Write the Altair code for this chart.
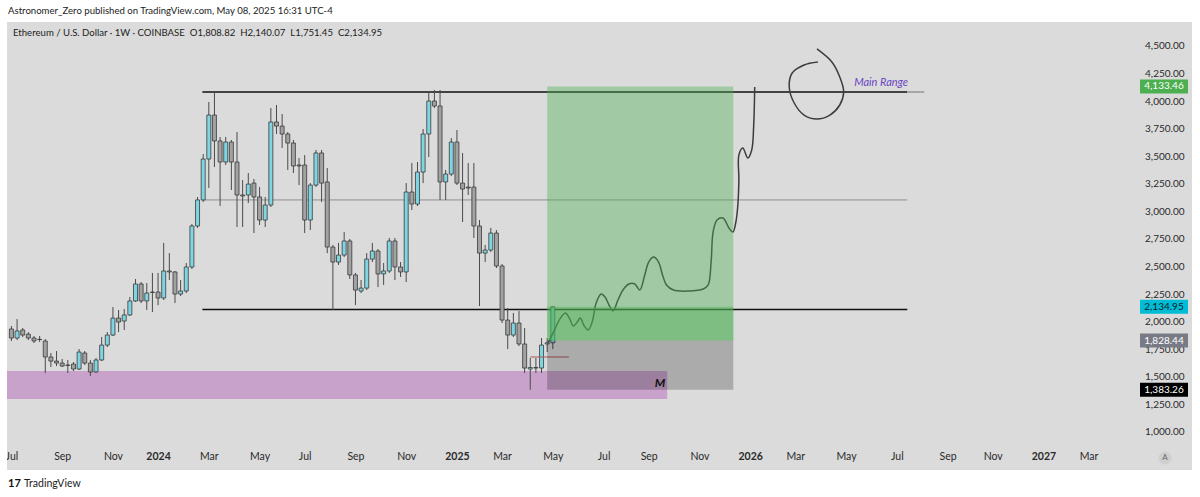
import altair as alt
import pandas as pd

FONT = "Lato"

# ---------------- data ----------------
first_week = "2023-07-03"          # weekly candles, ETH/USD (Coinbase)
opens = [1934, 1852, 1925, 1887, 1852, 1838, 1825, 1680, 1643, 1625,
         1607, 1616, 1571, 1716, 1625, 1544, 1653, 1788, 1879, 2033,
         2006, 2061, 2188, 2342, 2188, 2265, 2269, 2215, 2460, 2451,
         2251, 2278, 2496, 2868, 3104, 3475, 3874, 3639, 3448, 3629,
         3448, 3149, 3149, 3257, 3131, 2922, 3058, 3811, 3774, 3702,
         3620, 3421, 3421, 2922, 3239, 3530, 3267, 2677, 2541, 2604,
         2732, 2424, 2278, 2305, 2568, 2641, 2433, 2460, 2732, 2496,
         2451, 3176, 3067, 3357, 3702, 4001, 3956, 3267, 3339, 3629,
         3257, 3221, 3221, 2868, 2622, 2650, 2804, 2505, 2015, 1879,
         1988, 1798, 1571, 1585, 1580, 1798, 1808.82]
highs = [1961, 2024, 1943, 1906, 1870, 1870, 1843, 1716, 1734, 1662,
         1653, 1634, 1752, 1734, 1653, 1671, 1861, 1906, 2133, 2106,
         2115, 2224, 2387, 2360, 2351, 2442, 2442, 2714, 2622, 2460,
         2378, 2532, 2886, 3131, 3520, 3992, 4083, 3675, 3675, 3648,
         3720, 3285, 3348, 3294, 3221, 3131, 3938, 3965, 3883, 3720,
         3648, 3484, 3511, 3257, 3557, 3557, 3394, 2696, 2714, 2813,
         2750, 2442, 2378, 2622, 2714, 2659, 2532, 2759, 2759, 2541,
         3257, 3439, 3448, 3747, 4074, 4101, 4101, 3376, 3666, 3738,
         3530, 3439, 3439, 2922, 2696, 2850, 2831, 2523, 2124, 2079,
         2097, 1943, 1671, 1671, 1852, 1852, 2140.07]
lows = [1825, 1834, 1861, 1834, 1807, 1816, 1535, 1589, 1598, 1589,
        1535, 1553, 1562, 1607, 1508, 1535, 1643, 1770, 1870, 1906,
        1925, 2052, 2179, 2169, 2106, 2088, 2150, 2197, 2378, 2169,
        2233, 2260, 2478, 2850, 3085, 3212, 3403, 3049, 3421, 3194,
        2859, 2859, 3076, 2804, 2877, 2859, 3040, 3702, 3575, 3376,
        3348, 3239, 2804, 2831, 3221, 3085, 2622, 2106, 2514, 2586,
        2387, 2151, 2260, 2287, 2541, 2314, 2333, 2442, 2378, 2405,
        2360, 3013, 3049, 3257, 3493, 3938, 3104, 3104, 3321, 3239,
        2904, 3149, 2759, 2142, 2541, 2632, 2487, 1988, 1752, 1861,
        1779, 1535, 1383, 1535, 1535, 1725, 1751.45]
closes = [1852, 1916, 1879, 1852, 1825, 1840, 1680, 1643, 1625, 1598,
          1603, 1571, 1725, 1625, 1544, 1653, 1788, 1879, 2033, 1997,
          2061, 2188, 2342, 2188, 2260, 2269, 2215, 2460, 2451, 2251,
          2278, 2496, 2868, 3104, 3475, 3874, 3639, 3448, 3629, 3448,
          3149, 3140, 3248, 3131, 2922, 3058, 3811, 3774, 3702, 3620,
          3412, 3412, 2922, 3239, 3530, 3257, 2677, 2541, 2604, 2732,
          2424, 2287, 2305, 2568, 2641, 2433, 2460, 2732, 2496, 2451,
          3176, 3067, 3357, 3702, 4001, 3956, 3267, 3339, 3629, 3257,
          3203, 3212, 2868, 2622, 2650, 2804, 2505, 2015, 1879, 1988,
          1798, 1580, 1585, 1580, 1788, 1808.82, 2134.95]

# range lines drawn by the author
range_levels = [4083, 3104, 2110]
range_colors = ["#111111", "#8f8f8f", "#111111"]
range_widths = [1.6, 1.0, 1.6]
range_start = "2024-02-25"
range_end = "2026-07-19"
range_tip_end = "2026-08-09"

# support zone
zone_start, zone_end = "2023-06-19", "2025-09-24"
zone_low, zone_high = 1299, 1553

# long position tool
pos_start, pos_end = "2025-04-28", "2025-12-15"
pos_target, pos_entry, pos_stop, pos_last = 4133.46, 1828.44, 1383.26, 2134.95

# small red line
red_start, red_end, red_level = "2025-04-07", "2025-05-25", 1680

# hand-drawn projection (weeks after 2025-05-05, price)
drawing_anchor = "2025-05-05"
drawing_weeks = [-0.76, 0.3, 1.35, 2.23, 2.93, 3.64, 4.34, 4.87, 5.57, 6.27,
                 6.98, 7.68, 8.56, 9.26, 9.96, 10.67, 11.55, 12.43, 13.48, 14.54,
                 15.42, 16.3, 17.0, 17.87, 18.75, 19.45, 20.16, 21.39, 24.02, 26.66,
                 27.54, 28.07, 28.42, 29.12, 30.18, 31.23, 31.94, 32.46, 32.81, 32.99,
                 32.99, 33.69, 34.57, 35.27, 35.62, 35.8]
drawing_prices = [1816, 1925, 2033, 2079, 2033, 1961, 1997, 2033, 1961, 1925,
                  1997, 2169, 2251, 2224, 2151, 2097, 2197, 2287, 2342, 2342,
                  2287, 2424, 2541, 2586, 2541, 2424, 2333, 2287, 2278, 2296,
                  2333, 2541, 2813, 2922, 2940, 2850, 2813, 2904, 3058, 3285,
                  3511, 3575, 3484, 3557, 3784, 4128]
circle_weeks = [47.0, 44.55, 42.44, 41.92, 42.8, 44.55, 46.84, 49.13, 50.88, 51.58,
                50.88, 49.48, 46.84]
circle_prices = [4355, 4328, 4255, 4128, 3983, 3874, 3838, 3874, 3965, 4083,
                 4219, 4355, 4473]

main_range_date, main_range_price = "2026-05-14", 4164
m_date, m_price = "2025-09-15", 1444

badge_prices = [4133.46, 2134.95, 1828.44, 1383.26]
badge_fills = ["#4caf50", "#00bcd4", "#787b86", "#000000"]
badge_text_colors = ["#ffffff", "#0d1b2a", "#ffffff", "#ffffff"]

y_ticks = [1000, 1250, 1500, 1750, 2000, 2250, 2500, 2750, 3000, 3250,
           3500, 3750, 4000, 4250, 4500]
x_ticks = ["2023-07-03", "2023-09-04", "2023-11-06", "2024-01-01", "2024-03-04",
           "2024-05-06", "2024-07-01", "2024-09-02", "2024-11-04", "2025-01-06",
           "2025-03-03", "2025-05-05", "2025-07-07", "2025-09-01", "2025-11-03",
           "2026-01-05", "2026-03-02", "2026-05-04", "2026-07-06", "2026-09-07",
           "2026-11-02", "2027-01-04", "2027-03-01"]

NB = "\u00a0"
header_text = "Astronomer_Zero published on TradingView.com, May 08, 2025 16:31 UTC-4"
legend_text = ("Ethereum / U.S. Dollar \u00b7 1W \u00b7 COINBASE" + NB * 2 + "O1,808.82" + NB * 2 +
               "H2,140.07" + NB * 2 + "L1,751.45" + NB * 2 + "C2,134.95")

X_DOMAIN = ["2023-07-03T17:00:00Z", "2027-04-15T05:00:00Z"]
Y_DOMAIN = [882, 4717.6]

# ---------------- helpers ----------------
def ms(s):
    return int(pd.Timestamp(s).value // 1_000_000)


def iso(ts):
    return pd.Timestamp(ts).strftime("%Y-%m-%dT%H:%M:%SZ")


xscale = alt.Scale(type="utc", domain=[ms(d) for d in X_DOMAIN])
xaxis = alt.Axis(
    title=None, values=[ms(t) for t in x_ticks],
    labelExpr="utcmonth(datum.value)==0 ? utcFormat(datum.value,'%Y') : utcFormat(datum.value,'%b')",
    labelFontWeight={"condition": {"test": "utcmonth(datum.value)==0", "value": "bold"},
                     "value": "normal"},
    ticks=False, tickSize=0, domain=False, grid=False, labelPadding=6,
    labelFont=FONT, labelFontSize=10.5, labelColor="#2a2a2a",
    labelOverlap=False, labelFlush=False, labelBound=False, zindex=0)
yscale = alt.Scale(domain=Y_DOMAIN, nice=False, zero=False)
yaxis = alt.Axis(
    title=None, orient="right", values=y_ticks, format=",.2f",
    ticks=False, tickSize=0, domain=False, grid=False,
    labelAlign="right", labelBaseline="middle", labelPadding=54,
    labelFont=FONT, labelFontSize=10, labelColor="#2a2a2a", labelOverlap=False, zindex=0)


def X(f):
    return alt.X(f, type="temporal", scale=xscale, axis=xaxis)


def Y(f):
    return alt.Y(f, type="quantitative", scale=yscale, axis=yaxis)


# ---------------- tables ----------------
dates = pd.date_range(first_week, periods=len(opens), freq="7D")
candles = pd.DataFrame({
    "date": [iso(d) for d in dates],
    "open": opens, "high": highs, "low": lows, "close": closes,
})
candles["up"] = candles["close"] >= candles["open"]

anchor = pd.Timestamp(drawing_anchor)
drawing = pd.DataFrame({
    "date": [iso(anchor + pd.Timedelta(days=w * 7)) for w in drawing_weeks],
    "price": drawing_prices, "order": range(len(drawing_weeks))})
circle = pd.DataFrame({
    "date": [iso(anchor + pd.Timedelta(days=w * 7)) for w in circle_weeks],
    "price": circle_prices, "order": range(len(circle_weeks))})

ranges = pd.DataFrame({"x": range_start, "x2": range_end, "y": range_levels,
                       "c": range_colors, "w": range_widths})
tip = pd.DataFrame({"x": [range_end], "x2": [range_tip_end], "y": [range_levels[0]]})
zone = pd.DataFrame({"x": [zone_start], "x2": [zone_end], "y": [zone_low], "y2": [zone_high]})
pos = pd.DataFrame({
    "x": [pos_start] * 3, "x2": [pos_end] * 3,
    "y": [pos_entry, pos_entry, pos_stop], "y2": [pos_target, pos_last, pos_entry],
    "c": ["#4caf50", "#4caf50", "#000000"], "o": [0.4, 0.4, 0.22]})
red = pd.DataFrame({"x": [red_start], "x2": [red_end], "y": [red_level]})
badges = pd.DataFrame({"price": badge_prices, "fill": badge_fills, "tc": badge_text_colors,
                       "label": [f"{p:,.2f}" for p in badge_prices]})
one = pd.DataFrame({"k": [0]})

# ---------------- layers ----------------
zone_l = alt.Chart(zone).mark_rect(color="#c8a2cb", clip=True).encode(
    x=X("x"), x2="x2", y=Y("y"), y2="y2")
range_l = alt.Chart(ranges).mark_rule().encode(
    x=X("x"), x2="x2", y=Y("y"),
    color=alt.Color("c:N", scale=None), strokeWidth=alt.StrokeWidth("w:Q", scale=None))
tip_l = alt.Chart(tip).mark_rule(color="#9a9a9a", strokeWidth=1.6).encode(
    x=X("x"), x2="x2", y=Y("y"))
wick_l = alt.Chart(candles).mark_rule(color="#4a4a4a", strokeWidth=1).encode(
    x=X("date"), y=Y("low"), y2="high")
body_l = alt.Chart(candles).mark_bar(size=4, stroke="#3a3a3a", strokeWidth=0.8).encode(
    x=X("date"), y=Y("open"), y2="close",
    color=alt.condition("datum.up", alt.value("#7fd6e2"), alt.value("#a2a2a2")))
red_l = alt.Chart(red).mark_rule(color="#a85a5a", strokeWidth=1).encode(
    x=X("x"), x2="x2", y=Y("y"))
draw_l = alt.Chart(drawing).mark_line(color="#3c3c3c", strokeWidth=1.5,
                                      interpolate="catmull-rom").encode(
    x=X("date"), y=Y("price"), order="order:Q")
circle_l = alt.Chart(circle).mark_line(color="#3c3c3c", strokeWidth=1.5,
                                       interpolate="catmull-rom").encode(
    x=X("date"), y=Y("price"), order="order:Q")
pos_l = alt.Chart(pos).mark_rect().encode(
    x=X("x"), x2="x2", y=Y("y"), y2="y2",
    color=alt.Color("c:N", scale=None), opacity=alt.Opacity("o:Q", scale=None))
m_l = alt.Chart(pd.DataFrame({"d": [m_date], "p": [m_price], "t": ["M"]})).mark_text(
    font=FONT, fontSize=12, fontWeight="bold", fontStyle="italic", color="#111111").encode(
    x=X("d"), y=Y("p"), text="t:N")
mr_l = alt.Chart(pd.DataFrame({"d": [main_range_date], "p": [main_range_price],
                               "t": ["Main Range"]})).mark_text(
    font=FONT, fontSize=11, fontStyle="italic", color="#6a44c4", align="left").encode(
    x=X("d"), y=Y("p"), text="t:N")
badge_l = alt.Chart(badges).mark_tick(thickness=14, size=48, orient="horizontal").encode(
    x=alt.value(1157), y=Y("price"), color=alt.Color("fill:N", scale=None), opacity=alt.value(1))
badge_t = alt.Chart(badges).mark_text(font=FONT, fontSize=10).encode(
    x=alt.value(1157), y=Y("price"), text="label:N", color=alt.Color("tc:N", scale=None))

white = "#ffffff"
strip_top = alt.Chart(one).mark_rect(color=white).encode(
    x=alt.value(-7), x2=alt.value(1193), y=alt.value(-22), y2=alt.value(0))
strip_bot = alt.Chart(one).mark_rect(color=white).encode(
    x=alt.value(-7), x2=alt.value(1193), y=alt.value(448), y2=alt.value(475))
strip_left = alt.Chart(one).mark_rect(color=white).encode(
    x=alt.value(-7), x2=alt.value(0), y=alt.value(-22), y2=alt.value(475))
strip_right = alt.Chart(one).mark_rect(color=white).encode(
    x=alt.value(1185), x2=alt.value(1193), y=alt.value(-22), y2=alt.value(475))

head_l = alt.Chart(one).mark_text(font=FONT, fontSize=9.6, color="#222222", align="left").encode(
    x=alt.value(1), y=alt.value(-11), text=alt.value(header_text))
legend_l = alt.Chart(one).mark_text(font=FONT, fontSize=9.6, color="#222222", align="left").encode(
    x=alt.value(6), y=alt.value(11), text=alt.value(legend_text))
logo_l = alt.Chart(one).mark_text(font=FONT, fontSize=11, fontWeight="bold", color="#111111",
                                  align="left").encode(
    x=alt.value(1), y=alt.value(462), text=alt.value("17"))
tv_l = alt.Chart(one).mark_text(font=FONT, fontSize=10.5, color="#222222", align="left").encode(
    x=alt.value(17), y=alt.value(462), text=alt.value("TradingView"))
auto_c = alt.Chart(one).mark_point(filled=True, size=170, color="#cfcfcf", opacity=1).encode(
    x=alt.value(1158), y=alt.value(436))
auto_t = alt.Chart(one).mark_text(font=FONT, fontSize=8, color="#666666").encode(
    x=alt.value(1158), y=alt.value(436), text=alt.value("A"))

chart = alt.layer(
    zone_l, range_l, tip_l, wick_l, body_l, red_l, draw_l, circle_l, pos_l,
    m_l, mr_l, badge_l, badge_t,
    strip_top, strip_bot, strip_left, strip_right,
    head_l, legend_l, logo_l, tv_l, auto_c, auto_t,
).properties(
    width=1123, height=423,
    padding={"left": 7, "top": 22, "right": 70, "bottom": 52},
    autosize=alt.AutoSizeParams(type="none"),
    background="#dbdbdb",
).configure_view(strokeWidth=0, fill=None)

chart.save("out.html", embed_options={"renderer": "svg", "actions": False})
